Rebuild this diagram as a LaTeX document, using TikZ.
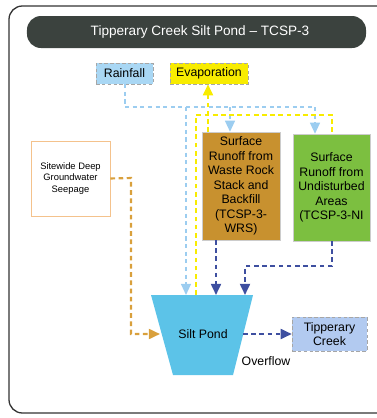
\documentclass[tikz,border=0pt]{standalone}
\usepackage{fontspec}
\setmainfont{Liberation Sans}
\usepackage{tikz}
\usetikzlibrary{arrows.meta,shapes.geometric,positioning,calc}

\definecolor{titlegrey}{HTML}{3B423E}
\definecolor{rainblue}{HTML}{A9D7F4}
\definecolor{rainline}{HTML}{9CCDF0}
\definecolor{evapyellow}{HTML}{F8EC00}
\definecolor{wrsbrown}{HTML}{C8912F}
\definecolor{nigreen}{HTML}{7CBF40}
\definecolor{seepedge}{HTML}{F4C28C}
\definecolor{seepline}{HTML}{D9A03C}
\definecolor{pondblue}{HTML}{5CC3E8}
\definecolor{creekblue}{HTML}{B2CAF0}
\definecolor{flowblue}{HTML}{3E4FA0}

\begin{document}
\begin{tikzpicture}[x=0.03cm, y=-0.03cm,
    src/.style={draw=gray!70, densely dashed, line width=0.4pt, minimum height=0.63cm, inner sep=1pt, font=\fontsize{10.5}{12}\selectfont},
    runoff/.style={draw=gray!40, line width=0.4pt, align=center, inner sep=1pt, font=\fontsize{10.5}{12.4}\selectfont},
    arr/.style={-{Triangle[length=9.5pt,width=8.5pt]}},
    rainarr/.style={arr, draw=rainline, line width=1.3pt, dash pattern=on 3.5pt off 3pt},
    evapln/.style={draw=evapyellow, line width=1.8pt, dash pattern=on 4pt off 3pt},
    flowarr/.style={arr, draw=flowblue, line width=1.8pt, dash pattern=on 4pt off 3pt},
    seeparr/.style={arr, draw=seepline, line width=1.8pt, dash pattern=on 4pt off 3pt}
]
\useasboundingbox (0,0) rectangle (377,418);
% frame and title
\draw[line width=1.1pt, draw=black!80, rounded corners=0.4cm] (9,6) rectangle (392,413);
\node[fill=titlegrey, rounded corners=0.42cm, minimum width=10.17cm, minimum height=0.96cm] (title) at (196.5,32) {};
\node[text=white, font=\fontsize{11.6}{13}\selectfont] (titletext) at (200,32) {Tipperary Creek Silt Pond -- TCSP-3};

\node[src, fill=rainblue, minimum width=1.71cm] (rain) at (124.5,73.5) {Rainfall};
\node[src, fill=evapyellow, minimum width=2.34cm] (evap) at (209,73.5) {Evaporation};

\node[runoff, fill=wrsbrown, minimum width=2.34cm, minimum height=3.24cm] (wrs) at (241,186) {Surface\\Runoff from\\Waste Rock\\Stack and\\Backfill\\(TCSP-3-\\WRS)};
\node[runoff, fill=nigreen, minimum width=2.31cm, minimum height=3.21cm] (ni) at (331.5,187.5) {Surface\\Runoff from\\Undisturbed\\Areas\\(TCSP-3-NI};
\node[draw=seepedge, line width=0.6pt, fill=white, align=center, minimum width=2.37cm, minimum height=2.25cm, font=\fontsize{8}{10}\selectfont] (seep) at (70.5,178.5) {Sitewide Deep\\Groundwater\\Seepage};

% silt pond
\coordinate (pondtl) at (151,295);
\coordinate (pondtr) at (253,295);
\fill[pondblue] (pondtl) -- (pondtr) -- (233,375) -- (173,375) -- cycle;
\node[font=\fontsize{10.5}{12}\selectfont] (pond) at (203,334) {Silt Pond};
\node[src, fill=creekblue, align=center, minimum width=2.25cm, minimum height=1.02cm, font=\fontsize{10.5}{12}\selectfont] (creek) at (329.5,334) {Tipperary\\Creek};
\node[font=\fontsize{10.5}{12}\selectfont] (overflow) at (266,361) {Overflow};

% bend points
\coordinate (rainbend) at (125,107);
\coordinate (rainend) at (315,107);
\coordinate (rainwrs) at (230,107);
\coordinate (rainpond) at (186,107);
\coordinate (evapwrs) at (208,132);
\coordinate (evaptop) at (196,115);
\coordinate (evapni) at (332,115);
\coordinate (wrsout) at (216,240);
\coordinate (niout) at (332,241);
\coordinate (nibend) at (245,266);
\coordinate (seepbend) at (131,178);
\coordinate (pondin) at (160,334);
\coordinate (pondout) at (243,334);

% rainfall
\draw[rainline, line width=1.3pt, dash pattern=on 3.5pt off 3pt] (rain.south -| rainbend) -- (rainbend) -- (rainend);
\draw[rainarr] (rainend) -- (rainend |- ni.north);
\draw[rainarr] (rainwrs) -- (rainwrs |- wrs.north);
\draw[rainarr] (rainpond) -- (rainpond |- pondtl);

% evaporation
\draw[evapln, -{Triangle[length=9.5pt,width=8.5pt]}] (evapwrs) -- (evapwrs |- evap.south);
\draw[evapln] (evaptop |- pondtl) -- (evaptop) -- (evapni) -- (evapni |- ni.north);

% seepage
\draw[seeparr] (seep.east) -- (seepbend) |- (pondin);

% runoff and overflow
\draw[flowarr] (wrsout) -- (wrsout |- pondtl);
\draw[flowarr] (niout) |- (nibend) -- (nibend |- pondtl);
\draw[flowarr] (pondout) -- (creek.west);
\end{tikzpicture}
\end{document}
